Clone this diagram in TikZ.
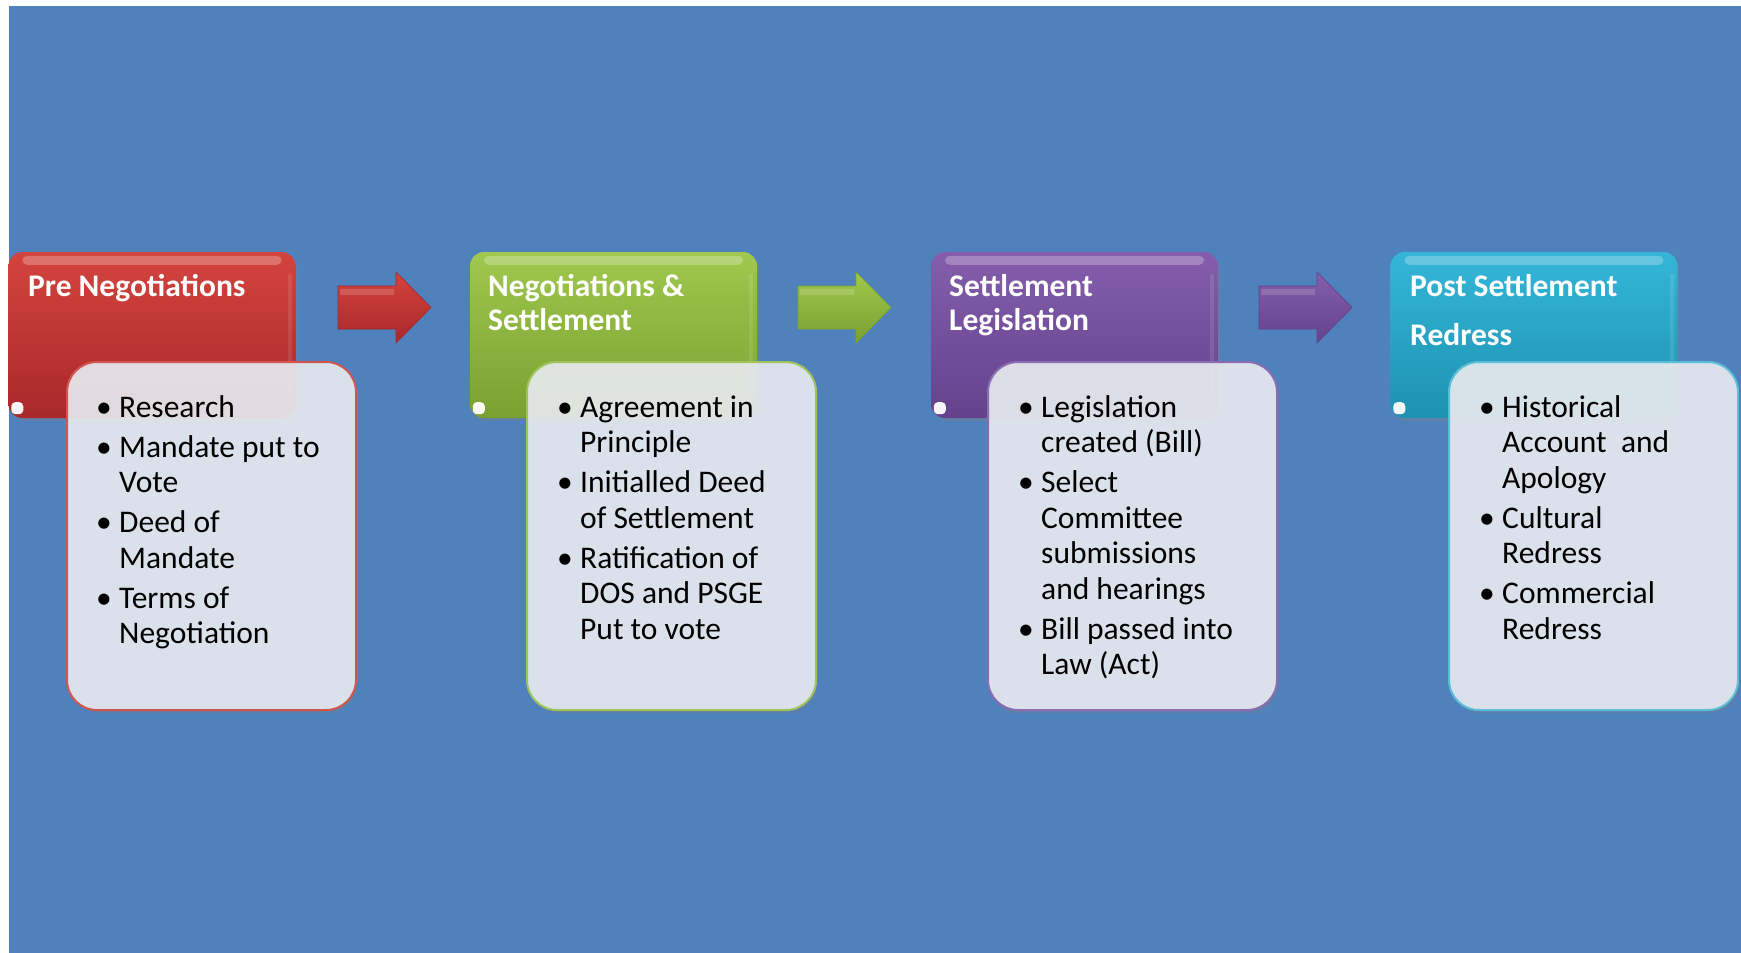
\documentclass[tikz,border=0pt]{standalone}
\usepackage{fontspec}
\setmainfont{Carlito}
\usetikzlibrary{shadows,calc}

\definecolor{bg}{RGB}{79,129,189}
\definecolor{boxfill}{RGB}{233,236,241}
\definecolor{redT}{RGB}{212,68,62}
\definecolor{redB}{RGB}{168,40,42}
\definecolor{redL}{RGB}{210,85,80}
\definecolor{grnT}{RGB}{160,200,78}
\definecolor{grnB}{RGB}{122,160,48}
\definecolor{grnL}{RGB}{160,196,90}
\definecolor{purT}{RGB}{132,94,172}
\definecolor{purB}{RGB}{100,66,140}
\definecolor{purL}{RGB}{140,108,176}
\definecolor{cyaT}{RGB}{52,182,216}
\definecolor{cyaB}{RGB}{30,146,178}
\definecolor{cyaL}{RGB}{90,190,214}

\newcommand{\bitem}{\par\noindent\hangindent=23pt\hangafter=1\makebox[23pt][l]{\textbullet}}
\newcommand{\listbody}[1]{\begin{minipage}[t]{300pt}\fontsize{31.5}{35.5}\selectfont\raggedright\let\\\newline\parindent=0pt\parskip=4.5pt\hbadness=10000 #1\end{minipage}}
\newcommand{\titlebody}[2][34]{\begin{minipage}[t]{300pt}\fontsize{31.5}{#1}\selectfont\bfseries\raggedright #2\end{minipage}}

\tikzset{
  hdr/.style={rounded corners=14, minimum width=287, minimum height=166, inner sep=0,
    drop shadow={opacity=0.35, shadow xshift=2pt, shadow yshift=-3pt}},
  wbox/.style={rounded corners=30, minimum width=289, minimum height=348, inner sep=0,
    fill=boxfill, fill opacity=0.9, line width=2pt,
    drop shadow={opacity=0.3, shadow xshift=2pt, shadow yshift=-3pt}},
  ttl/.style={anchor=base west, inner sep=0, text=white},
  lst/.style={anchor=base west, inner sep=0, text=black},
  blk/.style={line width=0.6pt},
}

\newcommand{\gloss}[1]{%
  \fill[white, opacity=0.25, rounded corners=5] ($(#1.north west)+(14,4)$) rectangle ($(#1.north east)+(-14,13)$);
  \fill[white, opacity=0.1] ($(#1.north east)+(-8,22)$) rectangle ($(#1.south east)+(-4,-22)$);
  \fill[white, opacity=0.95, rounded corners=4] ($(#1.south west)+(3,-16)$) rectangle ($(#1.south west)+(15,-4)$);
}

\newcommand{\blockarrow}[4]{%
  \path[blk, top color=#2, bottom color=#3, draw=#3] (#1,286) coordinate (#4)
    -- ++(58,0) -- ++(0,-14) -- ++(35,35.5) -- ++(-35,35.5) -- ++(0,-14) -- ++(-58,0) -- cycle;
  \fill[white, opacity=0.15] ($(#4)+(2,3)$) rectangle ($(#4)+(56,9)$);
}

\begin{document}
\begin{tikzpicture}[x=1pt,y=-1pt]
\useasboundingbox (0,0) rectangle (1741,953);
\fill[white] (0,0) rectangle (1741,953);
\fill[bg] (9,6) rectangle (1741,953);

% header boxes
\node[hdr, top color=redT, bottom color=redB] (h1) at (152,335) {};
\node[hdr, top color=grnT, bottom color=grnB] (h2) at (613.5,335) {};
\node[hdr, top color=purT, bottom color=purB] (h3) at (1074.5,335) {};
\node[hdr, top color=cyaT, bottom color=cyaB] (h4) at (1534,335) {};
\gloss{h1}\gloss{h2}\gloss{h3}\gloss{h4}

% header titles
\node[ttl] (t1) at (28,296) {\titlebody{Pre Negotiations}};
\node[ttl] (t2) at (488,296) {\titlebody{Negotiations \&\\Settlement}};
\node[ttl] (t3) at (949,296) {\titlebody{Settlement\\Legislation}};
\node[ttl] (t4) at (1410,296) {\titlebody[49]{Post Settlement\\Redress}};

% block arrows
\blockarrow{338}{redT}{redB}{a1}
\blockarrow{798}{grnT}{grnB}{a2}
\blockarrow{1259}{purT}{purB}{a3}

% white boxes
\node[wbox, draw=redL] (w1) at (211.5,536) {};
\node[wbox, draw=grnL] (w2) at (671.5,536) {};
\node[wbox, draw=purL] (w3) at (1132.5,536) {};
\node[wbox, draw=cyaL] (w4) at (1593.5,536) {};

% lists
\node[lst] (l1) at (96,417) {\listbody{%
\bitem Research
\bitem Mandate put to\\Vote
\bitem Deed of\\Mandate
\bitem Terms of\\Negotiation}};
\node[lst] (l2) at (557,417) {\listbody{%
\bitem Agreement in\\Principle
\bitem Initialled Deed\\of Settlement
\bitem Ratification of\\DOS and PSGE\\Put to vote}};
\node[lst] (l3) at (1018,417) {\listbody{%
\bitem Legislation\\created (Bill)
\bitem Select\\Committee\\submissions\\and hearings
\bitem Bill passed into\\Law (Act)}};
\node[lst] (l4) at (1479,417) {\listbody{%
\bitem Historical\\Account~ and\\Apology
\bitem Cultural\\Redress
\bitem Commercial\\Redress}};
\end{tikzpicture}
\end{document}
